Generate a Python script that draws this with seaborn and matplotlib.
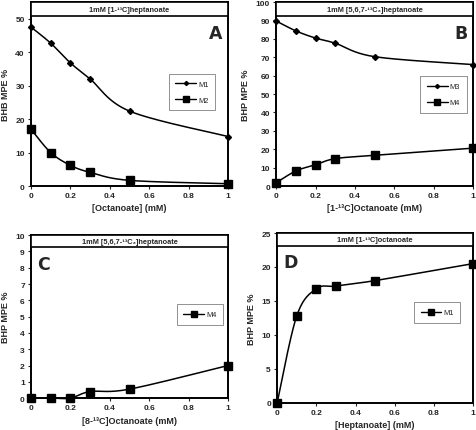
import numpy as np
import pandas as pd
import matplotlib
matplotlib.use("Agg")
import matplotlib.pyplot as plt
import seaborn as sns
from matplotlib.lines import Line2D
from matplotlib.patches import Rectangle
from matplotlib.ticker import FuncFormatter

# data
conc = [0, 0.1, 0.2, 0.3, 0.5, 1]

a_m1 = [47.5, 42.7, 36.8, 32.0, 22.4, 14.8]
a_m2 = [17.0, 10.0, 6.2, 4.1, 1.7, 0.7]

b_m3 = [89.7, 84.3, 80.4, 77.6, 70.3, 66.0]
b_m4 = [1.8, 8.2, 11.6, 14.9, 16.7, 20.6]

c_m4 = [0.0, 0.0, 0.0, 0.4, 0.55, 2.0]

d_m1 = [0.0, 12.8, 16.8, 17.2, 18.0, 20.5]

sns.set_style("white")
plt.rcParams['font.family'] = ['Liberation Sans', 'DejaVu Sans']


def smooth(x, y, n=30):
    # catmull-rom curve through the points (like excel smoothed lines)
    x = np.asarray(x, float); y = np.asarray(y, float)
    px = np.concatenate([[x[0]], x, [x[-1]]])
    py = np.concatenate([[y[0]], y, [y[-1]]])
    xs, ys = [], []
    t = np.linspace(0, 1, n)
    for i in range(1, len(px) - 2):
        p0, p1, p2, p3 = [np.array([px[j], py[j]]) for j in (i - 1, i, i + 1, i + 2)]
        c1 = p1 + (p2 - p0) / 6
        c2 = p2 - (p3 - p1) / 6
        b = ((1 - t) ** 3)[:, None] * p1 + (3 * (1 - t) ** 2 * t)[:, None] * c1 \
            + (3 * (1 - t) * t ** 2)[:, None] * c2 + (t ** 3)[:, None] * p2
        xs.extend(b[:, 0]); ys.extend(b[:, 1])
    return pd.DataFrame({"x": xs, "y": ys})


def series(ax, y, marker, ms):
    sm = smooth(conc, y)
    sns.lineplot(data=sm, x="x", y="y", ax=ax, color="black", lw=1.1,
                 sort=False, estimator=None, clip_on=False)
    ax.plot(conc, y, ls="none", marker=marker, ms=ms, color="black", clip_on=False, zorder=5)
    return Line2D([], [], color="black", lw=1.0, marker=marker, ms=ms * 0.7)


def setup(ax, ymax, ystep, ytop, title, letter, left_letter, xlabel, ylabel):
    ax.set_xlim(0, 1)
    ax.set_ylim(0, ytop)
    ax.set_yticks(np.arange(0, ymax + ystep / 2, ystep))
    ax.set_xticks([0, 0.2, 0.4, 0.6, 0.8, 1])
    ax.xaxis.set_major_formatter(FuncFormatter(lambda v, p: "%g" % v))
    ax.tick_params(axis="both", labelsize=6, length=2.5, width=0.8, pad=2,
                   left=True, bottom=True, direction="out")
    for lab in ax.get_xticklabels() + ax.get_yticklabels():
        lab.set_fontweight("bold")
    for s in ax.spines.values():
        s.set_color("black"); s.set_linewidth(1.4)
    ax.set_xlabel(xlabel, fontsize=6.5, fontweight="bold", labelpad=3)
    ax.set_ylabel(ylabel, fontsize=6.5, fontweight="bold", labelpad=4)
    ax.add_patch(Rectangle((0, 0.925), 1, 0.075, transform=ax.transAxes, facecolor="white",
                           edgecolor="black", lw=1.2, zorder=6, clip_on=False))
    ax.text(0.5, 0.962, title, transform=ax.transAxes, ha="center", va="center",
            fontsize=5.3, fontweight="bold", zorder=7)
    if left_letter:
        ax.text(0.03, 0.88, letter, transform=ax.transAxes, ha="left", va="top",
                fontsize=12.5, fontweight="bold", family="DejaVu Sans")
    else:
        ax.text(0.97, 0.88, letter, transform=ax.transAxes, ha="right", va="top",
                fontsize=12.5, fontweight="bold", family="DejaVu Sans")


def legend(ax, handles, labels, cx, cy):
    lg = ax.legend(handles, labels, loc="center", bbox_to_anchor=(cx, cy), fontsize=5.3,
                   frameon=True, fancybox=False, edgecolor="#808080", framealpha=1,
                   handlelength=2.8, borderpad=0.9, labelspacing=1.2, handletextpad=0.3)
    lg.get_frame().set_linewidth(0.6)


fig = plt.figure(figsize=(4.77, 4.31), dpi=100)
axA = fig.add_axes([0.065, 0.566, 0.413, 0.427])
axB = fig.add_axes([0.579, 0.566, 0.413, 0.427])
axC = fig.add_axes([0.065, 0.074, 0.413, 0.378])
axD = fig.add_axes([0.581, 0.063, 0.411, 0.394])

# A
h1 = series(axA, a_m1, "D", 3.0)
h2 = series(axA, a_m2, "s", 5.5)
setup(axA, 50, 10, 55, "1mM [1-¹³C]heptanoate", "A", False, "[Octanoate] (mM)", "BHB MPE %")
legend(axA, [h1, h2], ["M1", "M2"], 0.817, 0.511)

# B
h3 = series(axB, b_m3, "D", 3.0)
h4 = series(axB, b_m4, "s", 5.5)
setup(axB, 100, 10, 100, "1mM [5,6,7-¹³C₃]heptanoate", "B", False, "[1-¹³C]Octanoate (mM)", "BHP MPE %")
legend(axB, [h3, h4], ["M3", "M4"], 0.85, 0.497)

# C
h5 = series(axC, c_m4, "s", 5.5)
setup(axC, 10, 1, 10, "1mM [5,6,7-¹³C₃]heptanoate", "C", True, "[8-¹³C]Octanoate (mM)", "BHP MPE %")
legend(axC, [h5], ["M4"], 0.858, 0.512)

# D
h6 = series(axD, d_m1, "s", 5.5)
setup(axD, 25, 5, 25, "1mM [1-¹³C]octanoate", "D", True, "[Heptanoate] (mM)", "BHP MPE %")
legend(axD, [h6], ["M1"], 0.816, 0.532)

fig.savefig("out.png", dpi=100)
